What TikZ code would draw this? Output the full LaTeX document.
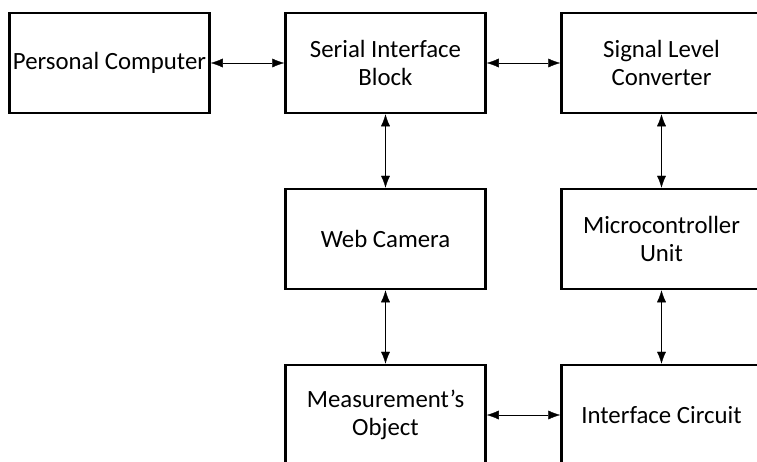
\documentclass[tikz,border=0pt]{standalone}
\usepackage{fontspec}
\setmainfont{Carlito}
\usetikzlibrary{arrows.meta,positioning}

\begin{document}
\begin{tikzpicture}[<->,>={Latex[length=12pt,width=9pt]},thin,
                    node distance=73.5pt and 73.5pt,
                    block/.style={draw,line width=2.5pt,minimum width=200pt,
                                  minimum height=100pt,inner sep=1pt,align=center,
                                  font=\fontsize{24.8}{28.5}\selectfont}]
                \useasboundingbox (0,0) rectangle (757pt,-461pt);
                \node[block] (pc) at (109.5pt,-63pt) {Personal Computer};
                \node[block] (sib) [right=of pc] {Serial Interface\\Block};
                \node[block] (slc) [right=of sib] {Signal Level\\Converter};

                \node[block] (cam) [below=of sib] {Web Camera};
                \node[block] (mcu) [below=of slc] {Microcontroller\\Unit};

                \node[block] (obj) [below=of cam] {Measurement's\\Object};
                \node[block] (ifc) [below=of mcu] {Interface Circuit};

    \draw (pc) -- (sib);
    \draw (sib) -- (slc);
    \draw (sib) -- (cam);
    \draw (cam) -- (obj);
    \draw (slc) -- (mcu);
    \draw (mcu) -- (ifc);
    \draw (obj) -- (ifc);
            \end{tikzpicture}
\end{document}
